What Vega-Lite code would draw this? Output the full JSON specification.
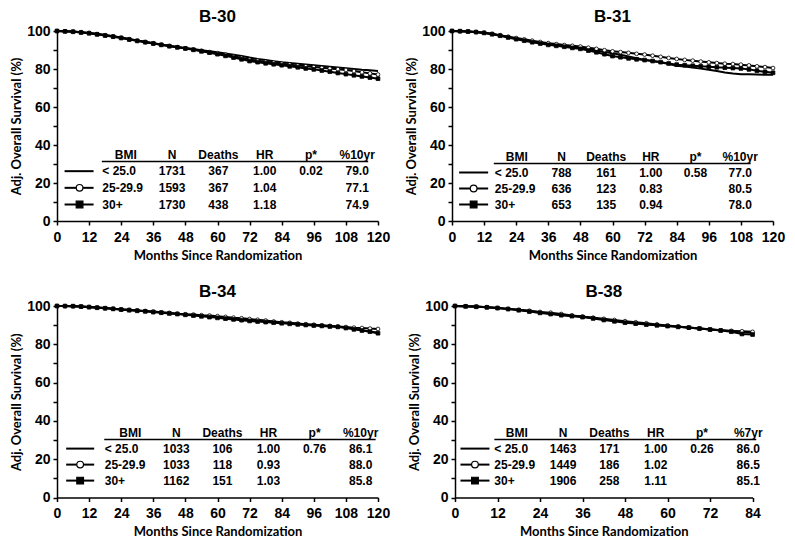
{
"$schema": "https://vega.github.io/schema/vega-lite/v6.json",
"background": "white",
"padding": {"left": 10, "top": 8, "right": 5, "bottom": 5},
"config": {
 "view": {"stroke": null},
 "font": "Liberation Sans",
 "axis": {"grid": false, "domainColor": "black", "domainWidth": 1.5, "tickColor": "black", "tickWidth": 1.5, "tickSize": 4, "labelColor": "black", "labelFont": "Liberation Sans", "labelFontSize": 14, "labelFontWeight": "bold", "labelOverlap": false, "titleFont": "Lato", "titleFontSize": 13, "titleFontWeight": "bold", "titleColor": "black"},
 "axisX": {"labelPadding": 5, "titlePadding": 5, "labelFlush": false},
 "axisY": {"labelPadding": 3, "titlePadding": 3},
 "title": {"font": "Liberation Sans", "fontSize": 17, "fontWeight": "bold", "color": "black", "frame": "group", "anchor": "middle", "offset": -2},
 "text": {"font": "Liberation Sans", "fontSize": 12, "fontWeight": "bold", "color": "black"}
},
"datasets": {
"table": [
{"t":"B-30","r":"h","bmi":"BMI","n":"N","deaths":"Deaths","hr":"HR","pval":"p*","pct":"%10yr"},
{"t":"B-30","r":"lt","bmi":"< 25.0","n":"1731","deaths":"367","hr":"1.00","pval":"0.02","pct":"79.0"},
{"t":"B-30","r":"mid","bmi":"25-29.9","n":"1593","deaths":"367","hr":"1.04","pval":"","pct":"77.1"},
{"t":"B-30","r":"hi","bmi":"30+","n":"1730","deaths":"438","hr":"1.18","pval":"","pct":"74.9"},
{"t":"B-31","r":"h","bmi":"BMI","n":"N","deaths":"Deaths","hr":"HR","pval":"p*","pct":"%10yr"},
{"t":"B-31","r":"lt","bmi":"< 25.0","n":"788","deaths":"161","hr":"1.00","pval":"0.58","pct":"77.0"},
{"t":"B-31","r":"mid","bmi":"25-29.9","n":"636","deaths":"123","hr":"0.83","pval":"","pct":"80.5"},
{"t":"B-31","r":"hi","bmi":"30+","n":"653","deaths":"135","hr":"0.94","pval":"","pct":"78.0"},
{"t":"B-34","r":"h","bmi":"BMI","n":"N","deaths":"Deaths","hr":"HR","pval":"p*","pct":"%10yr"},
{"t":"B-34","r":"lt","bmi":"< 25.0","n":"1033","deaths":"106","hr":"1.00","pval":"0.76","pct":"86.1"},
{"t":"B-34","r":"mid","bmi":"25-29.9","n":"1033","deaths":"118","hr":"0.93","pval":"","pct":"88.0"},
{"t":"B-34","r":"hi","bmi":"30+","n":"1162","deaths":"151","hr":"1.03","pval":"","pct":"85.8"},
{"t":"B-38","r":"h","bmi":"BMI","n":"N","deaths":"Deaths","hr":"HR","pval":"p*","pct":"%7yr"},
{"t":"B-38","r":"lt","bmi":"< 25.0","n":"1463","deaths":"171","hr":"1.00","pval":"0.26","pct":"86.0"},
{"t":"B-38","r":"mid","bmi":"25-29.9","n":"1449","deaths":"186","hr":"1.02","pval":"","pct":"86.5"},
{"t":"B-38","r":"hi","bmi":"30+","n":"1906","deaths":"258","hr":"1.11","pval":"","pct":"85.1"}
],
"curves": [
{"t":"B-30","g":"lt","m":0,"s":100},{"t":"B-30","g":"lt","m":3,"s":99.9},{"t":"B-30","g":"lt","m":6,"s":99.7},{"t":"B-30","g":"lt","m":9,"s":99.4},{"t":"B-30","g":"lt","m":12,"s":99.0},{"t":"B-30","g":"lt","m":15,"s":98.5},{"t":"B-30","g":"lt","m":18,"s":97.9},{"t":"B-30","g":"lt","m":21,"s":97.3},{"t":"B-30","g":"lt","m":24,"s":96.6},{"t":"B-30","g":"lt","m":27,"s":95.8},{"t":"B-30","g":"lt","m":30,"s":95.0},{"t":"B-30","g":"lt","m":33,"s":94.3},{"t":"B-30","g":"lt","m":36,"s":93.6},{"t":"B-30","g":"lt","m":39,"s":92.9},{"t":"B-30","g":"lt","m":42,"s":92.2},{"t":"B-30","g":"lt","m":45,"s":91.6},{"t":"B-30","g":"lt","m":48,"s":91.0},{"t":"B-30","g":"lt","m":51,"s":90.5},{"t":"B-30","g":"lt","m":54,"s":89.9},{"t":"B-30","g":"lt","m":57,"s":89.3},{"t":"B-30","g":"lt","m":60,"s":88.8},{"t":"B-30","g":"lt","m":63,"s":88.2},{"t":"B-30","g":"lt","m":66,"s":87.5},{"t":"B-30","g":"lt","m":69,"s":86.8},{"t":"B-30","g":"lt","m":72,"s":86.0},{"t":"B-30","g":"lt","m":75,"s":85.3},{"t":"B-30","g":"lt","m":78,"s":84.7},{"t":"B-30","g":"lt","m":81,"s":84.1},{"t":"B-30","g":"lt","m":84,"s":83.6},{"t":"B-30","g":"lt","m":87,"s":83.2},{"t":"B-30","g":"lt","m":90,"s":82.8},{"t":"B-30","g":"lt","m":93,"s":82.4},{"t":"B-30","g":"lt","m":96,"s":82.0},{"t":"B-30","g":"lt","m":99,"s":81.6},{"t":"B-30","g":"lt","m":102,"s":81.2},{"t":"B-30","g":"lt","m":105,"s":80.8},{"t":"B-30","g":"lt","m":108,"s":80.4},{"t":"B-30","g":"lt","m":111,"s":80.0},{"t":"B-30","g":"lt","m":114,"s":79.6},{"t":"B-30","g":"lt","m":117,"s":79.3},{"t":"B-30","g":"lt","m":120,"s":79.0},
{"t":"B-30","g":"mid","m":0,"s":100},{"t":"B-30","g":"mid","m":3,"s":99.9},{"t":"B-30","g":"mid","m":6,"s":99.7},{"t":"B-30","g":"mid","m":9,"s":99.4},{"t":"B-30","g":"mid","m":12,"s":99.0},{"t":"B-30","g":"mid","m":15,"s":98.4},{"t":"B-30","g":"mid","m":18,"s":97.8},{"t":"B-30","g":"mid","m":21,"s":97.2},{"t":"B-30","g":"mid","m":24,"s":96.5},{"t":"B-30","g":"mid","m":27,"s":95.7},{"t":"B-30","g":"mid","m":30,"s":94.9},{"t":"B-30","g":"mid","m":33,"s":94.2},{"t":"B-30","g":"mid","m":36,"s":93.5},{"t":"B-30","g":"mid","m":39,"s":92.8},{"t":"B-30","g":"mid","m":42,"s":92.1},{"t":"B-30","g":"mid","m":45,"s":91.5},{"t":"B-30","g":"mid","m":48,"s":90.9},{"t":"B-30","g":"mid","m":51,"s":90.3},{"t":"B-30","g":"mid","m":54,"s":89.6},{"t":"B-30","g":"mid","m":57,"s":88.9},{"t":"B-30","g":"mid","m":60,"s":88.3},{"t":"B-30","g":"mid","m":63,"s":87.5},{"t":"B-30","g":"mid","m":66,"s":86.7},{"t":"B-30","g":"mid","m":69,"s":85.8},{"t":"B-30","g":"mid","m":72,"s":85.0},{"t":"B-30","g":"mid","m":75,"s":84.4},{"t":"B-30","g":"mid","m":78,"s":83.8},{"t":"B-30","g":"mid","m":81,"s":83.3},{"t":"B-30","g":"mid","m":84,"s":82.8},{"t":"B-30","g":"mid","m":87,"s":82.3},{"t":"B-30","g":"mid","m":90,"s":81.8},{"t":"B-30","g":"mid","m":93,"s":81.4},{"t":"B-30","g":"mid","m":96,"s":81.0},{"t":"B-30","g":"mid","m":99,"s":80.6},{"t":"B-30","g":"mid","m":102,"s":80.2},{"t":"B-30","g":"mid","m":105,"s":79.9},{"t":"B-30","g":"mid","m":108,"s":79.5},{"t":"B-30","g":"mid","m":111,"s":78.9},{"t":"B-30","g":"mid","m":114,"s":78.3},{"t":"B-30","g":"mid","m":117,"s":77.7},{"t":"B-30","g":"mid","m":120,"s":77.1},
{"t":"B-30","g":"hi","m":0,"s":100},{"t":"B-30","g":"hi","m":3,"s":99.8},{"t":"B-30","g":"hi","m":6,"s":99.6},{"t":"B-30","g":"hi","m":9,"s":99.2},{"t":"B-30","g":"hi","m":12,"s":98.8},{"t":"B-30","g":"hi","m":15,"s":98.2},{"t":"B-30","g":"hi","m":18,"s":97.6},{"t":"B-30","g":"hi","m":21,"s":97.0},{"t":"B-30","g":"hi","m":24,"s":96.3},{"t":"B-30","g":"hi","m":27,"s":95.5},{"t":"B-30","g":"hi","m":30,"s":94.8},{"t":"B-30","g":"hi","m":33,"s":94.1},{"t":"B-30","g":"hi","m":36,"s":93.4},{"t":"B-30","g":"hi","m":39,"s":92.7},{"t":"B-30","g":"hi","m":42,"s":92.0},{"t":"B-30","g":"hi","m":45,"s":91.4},{"t":"B-30","g":"hi","m":48,"s":90.8},{"t":"B-30","g":"hi","m":51,"s":90.1},{"t":"B-30","g":"hi","m":54,"s":89.3},{"t":"B-30","g":"hi","m":57,"s":88.6},{"t":"B-30","g":"hi","m":60,"s":87.8},{"t":"B-30","g":"hi","m":63,"s":86.9},{"t":"B-30","g":"hi","m":66,"s":86.0},{"t":"B-30","g":"hi","m":69,"s":85.1},{"t":"B-30","g":"hi","m":72,"s":84.2},{"t":"B-30","g":"hi","m":75,"s":83.6},{"t":"B-30","g":"hi","m":78,"s":83.0},{"t":"B-30","g":"hi","m":81,"s":82.5},{"t":"B-30","g":"hi","m":84,"s":82.0},{"t":"B-30","g":"hi","m":87,"s":81.4},{"t":"B-30","g":"hi","m":90,"s":80.9},{"t":"B-30","g":"hi","m":93,"s":80.3},{"t":"B-30","g":"hi","m":96,"s":79.8},{"t":"B-30","g":"hi","m":99,"s":79.2},{"t":"B-30","g":"hi","m":102,"s":78.6},{"t":"B-30","g":"hi","m":105,"s":77.9},{"t":"B-30","g":"hi","m":108,"s":77.3},{"t":"B-30","g":"hi","m":111,"s":76.7},{"t":"B-30","g":"hi","m":114,"s":76.1},{"t":"B-30","g":"hi","m":117,"s":75.5},{"t":"B-30","g":"hi","m":120,"s":74.9},
{"t":"B-31","g":"lt","m":0,"s":100},{"t":"B-31","g":"lt","m":3,"s":99.9},{"t":"B-31","g":"lt","m":6,"s":99.8},{"t":"B-31","g":"lt","m":9,"s":99.5},{"t":"B-31","g":"lt","m":12,"s":99.1},{"t":"B-31","g":"lt","m":15,"s":98.4},{"t":"B-31","g":"lt","m":18,"s":97.6},{"t":"B-31","g":"lt","m":21,"s":96.8},{"t":"B-31","g":"lt","m":24,"s":96.0},{"t":"B-31","g":"lt","m":27,"s":95.2},{"t":"B-31","g":"lt","m":30,"s":94.4},{"t":"B-31","g":"lt","m":33,"s":93.6},{"t":"B-31","g":"lt","m":36,"s":92.9},{"t":"B-31","g":"lt","m":39,"s":92.4},{"t":"B-31","g":"lt","m":42,"s":91.9},{"t":"B-31","g":"lt","m":45,"s":91.5},{"t":"B-31","g":"lt","m":48,"s":91.1},{"t":"B-31","g":"lt","m":51,"s":90.4},{"t":"B-31","g":"lt","m":54,"s":89.7},{"t":"B-31","g":"lt","m":57,"s":89.0},{"t":"B-31","g":"lt","m":60,"s":88.3},{"t":"B-31","g":"lt","m":63,"s":87.5},{"t":"B-31","g":"lt","m":66,"s":86.6},{"t":"B-31","g":"lt","m":69,"s":85.7},{"t":"B-31","g":"lt","m":72,"s":84.8},{"t":"B-31","g":"lt","m":75,"s":84.2},{"t":"B-31","g":"lt","m":78,"s":83.5},{"t":"B-31","g":"lt","m":81,"s":82.6},{"t":"B-31","g":"lt","m":84,"s":81.7},{"t":"B-31","g":"lt","m":87,"s":81.3},{"t":"B-31","g":"lt","m":90,"s":80.8},{"t":"B-31","g":"lt","m":93,"s":80.2},{"t":"B-31","g":"lt","m":96,"s":79.6},{"t":"B-31","g":"lt","m":99,"s":78.9},{"t":"B-31","g":"lt","m":102,"s":78.2},{"t":"B-31","g":"lt","m":105,"s":77.6},{"t":"B-31","g":"lt","m":108,"s":77.3},{"t":"B-31","g":"lt","m":111,"s":77.2},{"t":"B-31","g":"lt","m":114,"s":77.1},{"t":"B-31","g":"lt","m":117,"s":77.0},{"t":"B-31","g":"lt","m":120,"s":77.0},
{"t":"B-31","g":"mid","m":0,"s":100},{"t":"B-31","g":"mid","m":3,"s":99.9},{"t":"B-31","g":"mid","m":6,"s":99.8},{"t":"B-31","g":"mid","m":9,"s":99.5},{"t":"B-31","g":"mid","m":12,"s":99.1},{"t":"B-31","g":"mid","m":15,"s":98.5},{"t":"B-31","g":"mid","m":18,"s":97.8},{"t":"B-31","g":"mid","m":21,"s":97.0},{"t":"B-31","g":"mid","m":24,"s":96.3},{"t":"B-31","g":"mid","m":27,"s":95.6},{"t":"B-31","g":"mid","m":30,"s":94.9},{"t":"B-31","g":"mid","m":33,"s":94.2},{"t":"B-31","g":"mid","m":36,"s":93.6},{"t":"B-31","g":"mid","m":39,"s":93.1},{"t":"B-31","g":"mid","m":42,"s":92.6},{"t":"B-31","g":"mid","m":45,"s":92.2},{"t":"B-31","g":"mid","m":48,"s":91.8},{"t":"B-31","g":"mid","m":51,"s":91.2},{"t":"B-31","g":"mid","m":54,"s":90.6},{"t":"B-31","g":"mid","m":57,"s":89.9},{"t":"B-31","g":"mid","m":60,"s":89.3},{"t":"B-31","g":"mid","m":63,"s":88.9},{"t":"B-31","g":"mid","m":66,"s":88.5},{"t":"B-31","g":"mid","m":69,"s":88.0},{"t":"B-31","g":"mid","m":72,"s":87.6},{"t":"B-31","g":"mid","m":75,"s":87.0},{"t":"B-31","g":"mid","m":78,"s":86.4},{"t":"B-31","g":"mid","m":81,"s":85.8},{"t":"B-31","g":"mid","m":84,"s":85.3},{"t":"B-31","g":"mid","m":87,"s":84.8},{"t":"B-31","g":"mid","m":90,"s":84.4},{"t":"B-31","g":"mid","m":93,"s":83.9},{"t":"B-31","g":"mid","m":96,"s":83.5},{"t":"B-31","g":"mid","m":99,"s":83.1},{"t":"B-31","g":"mid","m":102,"s":82.8},{"t":"B-31","g":"mid","m":105,"s":82.6},{"t":"B-31","g":"mid","m":108,"s":82.3},{"t":"B-31","g":"mid","m":111,"s":81.9},{"t":"B-31","g":"mid","m":114,"s":81.4},{"t":"B-31","g":"mid","m":117,"s":81.0},{"t":"B-31","g":"mid","m":120,"s":80.5},
{"t":"B-31","g":"hi","m":0,"s":100},{"t":"B-31","g":"hi","m":3,"s":99.9},{"t":"B-31","g":"hi","m":6,"s":99.7},{"t":"B-31","g":"hi","m":9,"s":99.4},{"t":"B-31","g":"hi","m":12,"s":99.0},{"t":"B-31","g":"hi","m":15,"s":98.3},{"t":"B-31","g":"hi","m":18,"s":97.5},{"t":"B-31","g":"hi","m":21,"s":96.6},{"t":"B-31","g":"hi","m":24,"s":95.7},{"t":"B-31","g":"hi","m":27,"s":94.9},{"t":"B-31","g":"hi","m":30,"s":94.1},{"t":"B-31","g":"hi","m":33,"s":93.4},{"t":"B-31","g":"hi","m":36,"s":92.7},{"t":"B-31","g":"hi","m":39,"s":92.2},{"t":"B-31","g":"hi","m":42,"s":91.7},{"t":"B-31","g":"hi","m":45,"s":91.1},{"t":"B-31","g":"hi","m":48,"s":90.6},{"t":"B-31","g":"hi","m":51,"s":89.7},{"t":"B-31","g":"hi","m":54,"s":88.8},{"t":"B-31","g":"hi","m":57,"s":87.8},{"t":"B-31","g":"hi","m":60,"s":86.8},{"t":"B-31","g":"hi","m":63,"s":86.2},{"t":"B-31","g":"hi","m":66,"s":85.6},{"t":"B-31","g":"hi","m":69,"s":85.1},{"t":"B-31","g":"hi","m":72,"s":84.7},{"t":"B-31","g":"hi","m":75,"s":84.2},{"t":"B-31","g":"hi","m":78,"s":83.6},{"t":"B-31","g":"hi","m":81,"s":82.9},{"t":"B-31","g":"hi","m":84,"s":82.3},{"t":"B-31","g":"hi","m":87,"s":82.0},{"t":"B-31","g":"hi","m":90,"s":81.7},{"t":"B-31","g":"hi","m":93,"s":81.4},{"t":"B-31","g":"hi","m":96,"s":81.2},{"t":"B-31","g":"hi","m":99,"s":80.9},{"t":"B-31","g":"hi","m":102,"s":80.7},{"t":"B-31","g":"hi","m":105,"s":80.5},{"t":"B-31","g":"hi","m":108,"s":80.3},{"t":"B-31","g":"hi","m":111,"s":79.8},{"t":"B-31","g":"hi","m":114,"s":79.1},{"t":"B-31","g":"hi","m":117,"s":78.5},{"t":"B-31","g":"hi","m":120,"s":78.0},
{"t":"B-34","g":"lt","m":0,"s":100},{"t":"B-34","g":"lt","m":3,"s":99.95},{"t":"B-34","g":"lt","m":6,"s":99.9},{"t":"B-34","g":"lt","m":9,"s":99.7},{"t":"B-34","g":"lt","m":12,"s":99.5},{"t":"B-34","g":"lt","m":15,"s":99.2},{"t":"B-34","g":"lt","m":18,"s":98.9},{"t":"B-34","g":"lt","m":21,"s":98.6},{"t":"B-34","g":"lt","m":24,"s":98.2},{"t":"B-34","g":"lt","m":27,"s":97.9},{"t":"B-34","g":"lt","m":30,"s":97.6},{"t":"B-34","g":"lt","m":33,"s":97.3},{"t":"B-34","g":"lt","m":36,"s":97.0},{"t":"B-34","g":"lt","m":39,"s":96.6},{"t":"B-34","g":"lt","m":42,"s":96.3},{"t":"B-34","g":"lt","m":45,"s":95.9},{"t":"B-34","g":"lt","m":48,"s":95.6},{"t":"B-34","g":"lt","m":51,"s":95.3},{"t":"B-34","g":"lt","m":54,"s":94.9},{"t":"B-34","g":"lt","m":57,"s":94.6},{"t":"B-34","g":"lt","m":60,"s":94.2},{"t":"B-34","g":"lt","m":63,"s":93.8},{"t":"B-34","g":"lt","m":66,"s":93.4},{"t":"B-34","g":"lt","m":69,"s":93.0},{"t":"B-34","g":"lt","m":72,"s":92.6},{"t":"B-34","g":"lt","m":75,"s":92.3},{"t":"B-34","g":"lt","m":78,"s":91.9},{"t":"B-34","g":"lt","m":81,"s":91.6},{"t":"B-34","g":"lt","m":84,"s":91.3},{"t":"B-34","g":"lt","m":87,"s":91.0},{"t":"B-34","g":"lt","m":90,"s":90.7},{"t":"B-34","g":"lt","m":93,"s":90.4},{"t":"B-34","g":"lt","m":96,"s":90.1},{"t":"B-34","g":"lt","m":99,"s":89.8},{"t":"B-34","g":"lt","m":102,"s":89.5},{"t":"B-34","g":"lt","m":105,"s":89.2},{"t":"B-34","g":"lt","m":108,"s":88.8},{"t":"B-34","g":"lt","m":111,"s":88.1},{"t":"B-34","g":"lt","m":114,"s":87.4},{"t":"B-34","g":"lt","m":117,"s":86.7},{"t":"B-34","g":"lt","m":120,"s":86.1},
{"t":"B-34","g":"mid","m":0,"s":100},{"t":"B-34","g":"mid","m":3,"s":99.95},{"t":"B-34","g":"mid","m":6,"s":99.9},{"t":"B-34","g":"mid","m":9,"s":99.7},{"t":"B-34","g":"mid","m":12,"s":99.5},{"t":"B-34","g":"mid","m":15,"s":99.2},{"t":"B-34","g":"mid","m":18,"s":98.9},{"t":"B-34","g":"mid","m":21,"s":98.6},{"t":"B-34","g":"mid","m":24,"s":98.3},{"t":"B-34","g":"mid","m":27,"s":98.0},{"t":"B-34","g":"mid","m":30,"s":97.7},{"t":"B-34","g":"mid","m":33,"s":97.4},{"t":"B-34","g":"mid","m":36,"s":97.1},{"t":"B-34","g":"mid","m":39,"s":96.7},{"t":"B-34","g":"mid","m":42,"s":96.4},{"t":"B-34","g":"mid","m":45,"s":96.0},{"t":"B-34","g":"mid","m":48,"s":95.7},{"t":"B-34","g":"mid","m":51,"s":95.5},{"t":"B-34","g":"mid","m":54,"s":95.2},{"t":"B-34","g":"mid","m":57,"s":95.0},{"t":"B-34","g":"mid","m":60,"s":94.7},{"t":"B-34","g":"mid","m":63,"s":94.3},{"t":"B-34","g":"mid","m":66,"s":93.9},{"t":"B-34","g":"mid","m":69,"s":93.6},{"t":"B-34","g":"mid","m":72,"s":93.2},{"t":"B-34","g":"mid","m":75,"s":92.8},{"t":"B-34","g":"mid","m":78,"s":92.4},{"t":"B-34","g":"mid","m":81,"s":91.9},{"t":"B-34","g":"mid","m":84,"s":91.5},{"t":"B-34","g":"mid","m":87,"s":91.2},{"t":"B-34","g":"mid","m":90,"s":90.8},{"t":"B-34","g":"mid","m":93,"s":90.5},{"t":"B-34","g":"mid","m":96,"s":90.2},{"t":"B-34","g":"mid","m":99,"s":89.9},{"t":"B-34","g":"mid","m":102,"s":89.6},{"t":"B-34","g":"mid","m":105,"s":89.3},{"t":"B-34","g":"mid","m":108,"s":89.0},{"t":"B-34","g":"mid","m":111,"s":88.7},{"t":"B-34","g":"mid","m":114,"s":88.5},{"t":"B-34","g":"mid","m":117,"s":88.2},{"t":"B-34","g":"mid","m":120,"s":88.0},
{"t":"B-34","g":"hi","m":0,"s":100},{"t":"B-34","g":"hi","m":3,"s":99.95},{"t":"B-34","g":"hi","m":6,"s":99.9},{"t":"B-34","g":"hi","m":9,"s":99.7},{"t":"B-34","g":"hi","m":12,"s":99.4},{"t":"B-34","g":"hi","m":15,"s":99.1},{"t":"B-34","g":"hi","m":18,"s":98.8},{"t":"B-34","g":"hi","m":21,"s":98.5},{"t":"B-34","g":"hi","m":24,"s":98.1},{"t":"B-34","g":"hi","m":27,"s":97.8},{"t":"B-34","g":"hi","m":30,"s":97.5},{"t":"B-34","g":"hi","m":33,"s":97.2},{"t":"B-34","g":"hi","m":36,"s":96.8},{"t":"B-34","g":"hi","m":39,"s":96.5},{"t":"B-34","g":"hi","m":42,"s":96.1},{"t":"B-34","g":"hi","m":45,"s":95.8},{"t":"B-34","g":"hi","m":48,"s":95.4},{"t":"B-34","g":"hi","m":51,"s":95.0},{"t":"B-34","g":"hi","m":54,"s":94.6},{"t":"B-34","g":"hi","m":57,"s":94.2},{"t":"B-34","g":"hi","m":60,"s":93.8},{"t":"B-34","g":"hi","m":63,"s":93.4},{"t":"B-34","g":"hi","m":66,"s":93.0},{"t":"B-34","g":"hi","m":69,"s":92.6},{"t":"B-34","g":"hi","m":72,"s":92.2},{"t":"B-34","g":"hi","m":75,"s":91.9},{"t":"B-34","g":"hi","m":78,"s":91.6},{"t":"B-34","g":"hi","m":81,"s":91.3},{"t":"B-34","g":"hi","m":84,"s":91.0},{"t":"B-34","g":"hi","m":87,"s":90.7},{"t":"B-34","g":"hi","m":90,"s":90.4},{"t":"B-34","g":"hi","m":93,"s":90.1},{"t":"B-34","g":"hi","m":96,"s":89.8},{"t":"B-34","g":"hi","m":99,"s":89.6},{"t":"B-34","g":"hi","m":102,"s":89.3},{"t":"B-34","g":"hi","m":105,"s":89.1},{"t":"B-34","g":"hi","m":108,"s":88.5},{"t":"B-34","g":"hi","m":111,"s":87.8},{"t":"B-34","g":"hi","m":114,"s":87.2},{"t":"B-34","g":"hi","m":117,"s":86.6},{"t":"B-34","g":"hi","m":120,"s":85.8},
{"t":"B-38","g":"lt","m":0,"s":100},{"t":"B-38","g":"lt","m":3,"s":99.9},{"t":"B-38","g":"lt","m":6,"s":99.7},{"t":"B-38","g":"lt","m":9,"s":99.4},{"t":"B-38","g":"lt","m":12,"s":99.0},{"t":"B-38","g":"lt","m":15,"s":98.5},{"t":"B-38","g":"lt","m":18,"s":98.0},{"t":"B-38","g":"lt","m":21,"s":97.4},{"t":"B-38","g":"lt","m":24,"s":96.7},{"t":"B-38","g":"lt","m":27,"s":96.0},{"t":"B-38","g":"lt","m":30,"s":95.4},{"t":"B-38","g":"lt","m":33,"s":94.9},{"t":"B-38","g":"lt","m":36,"s":94.4},{"t":"B-38","g":"lt","m":39,"s":93.7},{"t":"B-38","g":"lt","m":42,"s":93.0},{"t":"B-38","g":"lt","m":45,"s":92.3},{"t":"B-38","g":"lt","m":48,"s":91.6},{"t":"B-38","g":"lt","m":51,"s":91.0},{"t":"B-38","g":"lt","m":54,"s":90.5},{"t":"B-38","g":"lt","m":57,"s":90.0},{"t":"B-38","g":"lt","m":60,"s":89.6},{"t":"B-38","g":"lt","m":63,"s":89.2},{"t":"B-38","g":"lt","m":66,"s":88.8},{"t":"B-38","g":"lt","m":69,"s":88.3},{"t":"B-38","g":"lt","m":72,"s":87.8},{"t":"B-38","g":"lt","m":75,"s":87.3},{"t":"B-38","g":"lt","m":78,"s":86.9},{"t":"B-38","g":"lt","m":81,"s":86.4},{"t":"B-38","g":"lt","m":84,"s":86.0},
{"t":"B-38","g":"mid","m":0,"s":100},{"t":"B-38","g":"mid","m":3,"s":99.9},{"t":"B-38","g":"mid","m":6,"s":99.7},{"t":"B-38","g":"mid","m":9,"s":99.4},{"t":"B-38","g":"mid","m":12,"s":99.0},{"t":"B-38","g":"mid","m":15,"s":98.5},{"t":"B-38","g":"mid","m":18,"s":98.0},{"t":"B-38","g":"mid","m":21,"s":97.5},{"t":"B-38","g":"mid","m":24,"s":96.9},{"t":"B-38","g":"mid","m":27,"s":96.5},{"t":"B-38","g":"mid","m":30,"s":95.8},{"t":"B-38","g":"mid","m":33,"s":95.1},{"t":"B-38","g":"mid","m":36,"s":94.5},{"t":"B-38","g":"mid","m":39,"s":93.9},{"t":"B-38","g":"mid","m":42,"s":93.3},{"t":"B-38","g":"mid","m":45,"s":92.7},{"t":"B-38","g":"mid","m":48,"s":92.1},{"t":"B-38","g":"mid","m":51,"s":91.5},{"t":"B-38","g":"mid","m":54,"s":91.0},{"t":"B-38","g":"mid","m":57,"s":90.4},{"t":"B-38","g":"mid","m":60,"s":89.8},{"t":"B-38","g":"mid","m":63,"s":89.3},{"t":"B-38","g":"mid","m":66,"s":88.8},{"t":"B-38","g":"mid","m":69,"s":88.3},{"t":"B-38","g":"mid","m":72,"s":87.7},{"t":"B-38","g":"mid","m":75,"s":87.3},{"t":"B-38","g":"mid","m":78,"s":87.0},{"t":"B-38","g":"mid","m":81,"s":86.8},{"t":"B-38","g":"mid","m":84,"s":86.5},
{"t":"B-38","g":"hi","m":0,"s":100},{"t":"B-38","g":"hi","m":3,"s":99.8},{"t":"B-38","g":"hi","m":6,"s":99.6},{"t":"B-38","g":"hi","m":9,"s":99.3},{"t":"B-38","g":"hi","m":12,"s":98.9},{"t":"B-38","g":"hi","m":15,"s":98.4},{"t":"B-38","g":"hi","m":18,"s":97.8},{"t":"B-38","g":"hi","m":21,"s":97.1},{"t":"B-38","g":"hi","m":24,"s":96.4},{"t":"B-38","g":"hi","m":27,"s":95.8},{"t":"B-38","g":"hi","m":30,"s":95.2},{"t":"B-38","g":"hi","m":33,"s":94.7},{"t":"B-38","g":"hi","m":36,"s":94.2},{"t":"B-38","g":"hi","m":39,"s":93.5},{"t":"B-38","g":"hi","m":42,"s":92.7},{"t":"B-38","g":"hi","m":45,"s":92.0},{"t":"B-38","g":"hi","m":48,"s":91.3},{"t":"B-38","g":"hi","m":51,"s":90.8},{"t":"B-38","g":"hi","m":54,"s":90.3},{"t":"B-38","g":"hi","m":57,"s":89.9},{"t":"B-38","g":"hi","m":60,"s":89.5},{"t":"B-38","g":"hi","m":63,"s":89.1},{"t":"B-38","g":"hi","m":66,"s":88.7},{"t":"B-38","g":"hi","m":69,"s":88.2},{"t":"B-38","g":"hi","m":72,"s":87.7},{"t":"B-38","g":"hi","m":75,"s":87.2},{"t":"B-38","g":"hi","m":78,"s":86.6},{"t":"B-38","g":"hi","m":81,"s":85.4},{"t":"B-38","g":"hi","m":84,"s":85.1}
]
},
"spacing": 21,
"vconcat": [
{"hconcat": [
 {"width": 321, "height": 190, "title": {"text": "B-30"},
  "layer": [
   {"data": {"name": "curves"}, "transform": [{"filter": "datum.t == 'B-30'"}],
    "encoding": {
     "x": {"field": "m", "type": "quantitative", "scale": {"domain": [0, 120], "nice": false}, "axis": {"values": [0,12,24,36,48,60,72,84,96,108,120], "title": "Months Since Randomization"}},
     "y": {"field": "s", "type": "quantitative", "scale": {"domain": [0, 100], "nice": false}, "axis": {"values": [0,10,20,30,40,50,60,70,80,90,100], "labelExpr": "datum.value % 20 == 0 ? datum.label : ''", "title": "Adj. Overall Survival (%)"}}},
    "layer": [
     {"mark": {"type": "line", "color": "black", "strokeWidth": 2}, "encoding": {"detail": {"field": "g"}}},
     {"transform": [{"filter": "datum.g != 'lt'"}], "mark": {"type": "point", "filled": true, "stroke": "black", "strokeWidth": 0.8, "size": 14, "opacity": 1},
      "encoding": {"shape": {"field": "g", "scale": {"domain": ["mid","hi"], "range": ["circle","square"]}, "legend": null}, "fill": {"field": "g", "scale": {"domain": ["mid","hi"], "range": ["white","black"]}, "legend": null}}}
    ]},
   {"data": {"name": "table"}, "transform": [{"filter": "datum.t == 'B-30'"}, {"fold": ["bmi","n","deaths","hr","pval","pct"], "as": ["col","val"]}],
    "encoding": {
     "x": {"field": "col", "type": "nominal", "scale": {"type": "point", "domain": ["sample","bmi","n","deaths","hr","pval","pct"], "padding": 0.469, "align": 0.52}, "axis": null},
     "y": {"field": "r", "type": "nominal", "scale": {"type": "point", "domain": ["h","lt","mid","hi"], "range": [123.5, 173.5], "padding": 0}, "axis": null}},
    "layer": [
     {"transform": [{"filter": "datum.col != 'bmi' || datum.r == 'h'"}], "mark": {"type": "text", "align": "center", "baseline": "middle"}, "encoding": {"text": {"field": "val"}}},
     {"transform": [{"filter": "datum.col == 'bmi' && datum.r != 'h'"}], "mark": {"type": "text", "align": "left", "baseline": "middle", "dx": -23.5}, "encoding": {"text": {"field": "val"}}},
     {"transform": [{"filter": "datum.col == 'bmi' && datum.r == 'h'"}], "mark": {"type": "rule", "color": "black", "strokeWidth": 1.5, "xOffset": -24, "x2Offset": 11, "yOffset": 7}, "encoding": {"x": {"datum": "bmi", "type": "nominal", "axis": null}, "x2": {"datum": "pct"}}},
     {"transform": [{"filter": "datum.col == 'bmi' && datum.r != 'h'"}], "mark": {"type": "rule", "color": "black", "strokeWidth": 2, "xOffset": -15, "x2Offset": 14}, "encoding": {"x": {"datum": "sample", "type": "nominal", "axis": null}, "x2": {"datum": "sample"}}},
     {"transform": [{"filter": "datum.col == 'bmi' && (datum.r == 'mid' || datum.r == 'hi')"}], "mark": {"type": "point", "filled": true, "stroke": "black", "strokeWidth": 1.2, "size": 45, "opacity": 1},
      "encoding": {"x": {"datum": "sample", "type": "nominal", "axis": null}, "shape": {"field": "r", "scale": {"domain": ["mid","hi"], "range": ["circle","square"]}, "legend": null}, "fill": {"field": "r", "scale": {"domain": ["mid","hi"], "range": ["white","black"]}, "legend": null}}}
    ]}
  ],
  "resolve": {"scale": {"x": "independent", "y": "independent"}}},
 {"width": 321, "height": 190, "title": {"text": "B-31"},
  "layer": [
   {"data": {"name": "curves"}, "transform": [{"filter": "datum.t == 'B-31'"}],
    "encoding": {
     "x": {"field": "m", "type": "quantitative", "scale": {"domain": [0, 120], "nice": false}, "axis": {"values": [0,12,24,36,48,60,72,84,96,108,120], "title": "Months Since Randomization"}},
     "y": {"field": "s", "type": "quantitative", "scale": {"domain": [0, 100], "nice": false}, "axis": {"values": [0,10,20,30,40,50,60,70,80,90,100], "labelExpr": "datum.value % 20 == 0 ? datum.label : ''", "title": "Adj. Overall Survival (%)"}}},
    "layer": [
     {"mark": {"type": "line", "color": "black", "strokeWidth": 2}, "encoding": {"detail": {"field": "g"}}},
     {"transform": [{"filter": "datum.g != 'lt'"}], "mark": {"type": "point", "filled": true, "stroke": "black", "strokeWidth": 0.8, "size": 14, "opacity": 1},
      "encoding": {"shape": {"field": "g", "scale": {"domain": ["mid","hi"], "range": ["circle","square"]}, "legend": null}, "fill": {"field": "g", "scale": {"domain": ["mid","hi"], "range": ["white","black"]}, "legend": null}}}
    ]},
   {"data": {"name": "table"}, "transform": [{"filter": "datum.t == 'B-31'"}, {"fold": ["bmi","n","deaths","hr","pval","pct"], "as": ["col","val"]}],
    "encoding": {
     "x": {"field": "col", "type": "nominal", "scale": {"type": "point", "domain": ["sample","bmi","n","deaths","hr","pval","pct"], "padding": 0.593, "align": 0.38}, "axis": null},
     "y": {"field": "r", "type": "nominal", "scale": {"type": "point", "domain": ["h","lt","mid","hi"], "range": [125.5, 173.5], "padding": 0}, "axis": null}},
    "layer": [
     {"transform": [{"filter": "datum.col != 'bmi' || datum.r == 'h'"}], "mark": {"type": "text", "align": "center", "baseline": "middle"}, "encoding": {"text": {"field": "val"}}},
     {"transform": [{"filter": "datum.col == 'bmi' && datum.r != 'h'"}], "mark": {"type": "text", "align": "left", "baseline": "middle", "dx": -22}, "encoding": {"text": {"field": "val"}}},
     {"transform": [{"filter": "datum.col == 'bmi' && datum.r == 'h'"}], "mark": {"type": "rule", "color": "black", "strokeWidth": 1.5, "xOffset": -23, "x2Offset": 10.5, "yOffset": 7}, "encoding": {"x": {"datum": "bmi", "type": "nominal", "axis": null}, "x2": {"datum": "pct"}}},
     {"transform": [{"filter": "datum.col == 'bmi' && datum.r != 'h'"}], "mark": {"type": "rule", "color": "black", "strokeWidth": 2, "xOffset": -13, "x2Offset": 16}, "encoding": {"x": {"datum": "sample", "type": "nominal", "axis": null}, "x2": {"datum": "sample"}}},
     {"transform": [{"filter": "datum.col == 'bmi' && (datum.r == 'mid' || datum.r == 'hi')"}], "mark": {"type": "point", "filled": true, "stroke": "black", "strokeWidth": 1.2, "size": 45, "opacity": 1, "xOffset": 1.5},
      "encoding": {"x": {"datum": "sample", "type": "nominal", "axis": null}, "shape": {"field": "r", "scale": {"domain": ["mid","hi"], "range": ["circle","square"]}, "legend": null}, "fill": {"field": "r", "scale": {"domain": ["mid","hi"], "range": ["white","black"]}, "legend": null}}}
    ]}
  ],
  "resolve": {"scale": {"x": "independent", "y": "independent"}}}
 ], "spacing": 15},
{"hconcat": [
 {"width": 321, "height": 191.5, "title": {"text": "B-34"},
  "layer": [
   {"data": {"name": "curves"}, "transform": [{"filter": "datum.t == 'B-34'"}],
    "encoding": {
     "x": {"field": "m", "type": "quantitative", "scale": {"domain": [0, 120], "nice": false}, "axis": {"values": [0,12,24,36,48,60,72,84,96,108,120], "title": "Months Since Randomization"}},
     "y": {"field": "s", "type": "quantitative", "scale": {"domain": [0, 100], "nice": false}, "axis": {"values": [0,10,20,30,40,50,60,70,80,90,100], "labelExpr": "datum.value % 20 == 0 ? datum.label : ''", "title": "Adj. Overall Survival (%)"}}},
    "layer": [
     {"mark": {"type": "line", "color": "black", "strokeWidth": 2}, "encoding": {"detail": {"field": "g"}}},
     {"transform": [{"filter": "datum.g != 'lt'"}], "mark": {"type": "point", "filled": true, "stroke": "black", "strokeWidth": 0.8, "size": 14, "opacity": 1},
      "encoding": {"shape": {"field": "g", "scale": {"domain": ["mid","hi"], "range": ["circle","square"]}, "legend": null}, "fill": {"field": "g", "scale": {"domain": ["mid","hi"], "range": ["white","black"]}, "legend": null}}}
    ]},
   {"data": {"name": "table"}, "transform": [{"filter": "datum.t == 'B-34'"}, {"fold": ["bmi","n","deaths","hr","pval","pct"], "as": ["col","val"]}],
    "encoding": {
     "x": {"field": "col", "type": "nominal", "scale": {"type": "point", "domain": ["sample","bmi","n","deaths","hr","pval","pct"], "padding": 0.483, "align": 0.61}, "axis": null},
     "y": {"field": "r", "type": "nominal", "scale": {"type": "point", "domain": ["h","lt","mid","hi"], "range": [126.6, 174.6], "padding": 0}, "axis": null}},
    "layer": [
     {"transform": [{"filter": "datum.col != 'bmi' || datum.r == 'h'"}], "mark": {"type": "text", "align": "center", "baseline": "middle"}, "encoding": {"text": {"field": "val"}}},
     {"transform": [{"filter": "datum.col == 'bmi' && datum.r != 'h'"}], "mark": {"type": "text", "align": "left", "baseline": "middle", "dx": -25.5}, "encoding": {"text": {"field": "val"}}},
     {"transform": [{"filter": "datum.col == 'bmi' && datum.r == 'h'"}], "mark": {"type": "rule", "color": "black", "strokeWidth": 1.5, "xOffset": -26, "x2Offset": 15, "yOffset": 7}, "encoding": {"x": {"datum": "bmi", "type": "nominal", "axis": null}, "x2": {"datum": "pct"}}},
     {"transform": [{"filter": "datum.col == 'bmi' && datum.r != 'h'"}], "mark": {"type": "rule", "color": "black", "strokeWidth": 2, "xOffset": -18, "x2Offset": 10}, "encoding": {"x": {"datum": "sample", "type": "nominal", "axis": null}, "x2": {"datum": "sample"}}},
     {"transform": [{"filter": "datum.col == 'bmi' && (datum.r == 'mid' || datum.r == 'hi')"}], "mark": {"type": "point", "filled": true, "stroke": "black", "strokeWidth": 1.2, "size": 45, "opacity": 1, "xOffset": -4},
      "encoding": {"x": {"datum": "sample", "type": "nominal", "axis": null}, "shape": {"field": "r", "scale": {"domain": ["mid","hi"], "range": ["circle","square"]}, "legend": null}, "fill": {"field": "r", "scale": {"domain": ["mid","hi"], "range": ["white","black"]}, "legend": null}}}
    ]}
  ],
  "resolve": {"scale": {"x": "independent", "y": "independent"}}},
 {"width": 297.6, "height": 191.5, "title": {"text": "B-38"},
  "layer": [
   {"data": {"name": "curves"}, "transform": [{"filter": "datum.t == 'B-38'"}],
    "encoding": {
     "x": {"field": "m", "type": "quantitative", "scale": {"domain": [0, 84], "nice": false}, "axis": {"values": [0,12,24,36,48,60,72,84], "title": "Months Since Randomization"}},
     "y": {"field": "s", "type": "quantitative", "scale": {"domain": [0, 100], "nice": false}, "axis": {"values": [0,10,20,30,40,50,60,70,80,90,100], "labelExpr": "datum.value % 20 == 0 ? datum.label : ''", "title": "Adj. Overall Survival (%)"}}},
    "layer": [
     {"mark": {"type": "line", "color": "black", "strokeWidth": 2}, "encoding": {"detail": {"field": "g"}}},
     {"transform": [{"filter": "datum.g != 'lt'"}], "mark": {"type": "point", "filled": true, "stroke": "black", "strokeWidth": 0.8, "size": 14, "opacity": 1},
      "encoding": {"shape": {"field": "g", "scale": {"domain": ["mid","hi"], "range": ["circle","square"]}, "legend": null}, "fill": {"field": "g", "scale": {"domain": ["mid","hi"], "range": ["white","black"]}, "legend": null}}}
    ]},
   {"data": {"name": "table"}, "transform": [{"filter": "datum.t == 'B-38'"}, {"fold": ["bmi","n","deaths","hr","pval","pct"], "as": ["col","val"]}],
    "encoding": {
     "x": {"field": "col", "type": "nominal", "scale": {"type": "point", "domain": ["sample","bmi","n","deaths","hr","pval","pct"], "padding": 0.214, "align": 0.78}, "axis": null},
     "y": {"field": "r", "type": "nominal", "scale": {"type": "point", "domain": ["h","lt","mid","hi"], "range": [126.6, 174.6], "padding": 0}, "axis": null}},
    "layer": [
     {"transform": [{"filter": "datum.col != 'bmi' || datum.r == 'h'"}], "mark": {"type": "text", "align": "center", "baseline": "middle"}, "encoding": {"text": {"field": "val"}}},
     {"transform": [{"filter": "datum.col == 'bmi' && datum.r != 'h'"}], "mark": {"type": "text", "align": "left", "baseline": "middle", "dx": -22.4}, "encoding": {"text": {"field": "val"}}},
     {"transform": [{"filter": "datum.col == 'bmi' && datum.r == 'h'"}], "mark": {"type": "rule", "color": "black", "strokeWidth": 1.5, "xOffset": -22.4, "x2Offset": 8, "yOffset": 7}, "encoding": {"x": {"datum": "bmi", "type": "nominal", "axis": null}, "x2": {"datum": "pct"}}},
     {"transform": [{"filter": "datum.col == 'bmi' && datum.r != 'h'"}], "mark": {"type": "rule", "color": "black", "strokeWidth": 2, "xOffset": -10, "x2Offset": 19}, "encoding": {"x": {"datum": "sample", "type": "nominal", "axis": null}, "x2": {"datum": "sample"}}},
     {"transform": [{"filter": "datum.col == 'bmi' && (datum.r == 'mid' || datum.r == 'hi')"}], "mark": {"type": "point", "filled": true, "stroke": "black", "strokeWidth": 1.2, "size": 45, "opacity": 1, "xOffset": 4.5},
      "encoding": {"x": {"datum": "sample", "type": "nominal", "axis": null}, "shape": {"field": "r", "scale": {"domain": ["mid","hi"], "range": ["circle","square"]}, "legend": null}, "fill": {"field": "r", "scale": {"domain": ["mid","hi"], "range": ["white","black"]}, "legend": null}}}
    ]}
  ],
  "resolve": {"scale": {"x": "independent", "y": "independent"}}}
 ], "spacing": 18}
]
}
